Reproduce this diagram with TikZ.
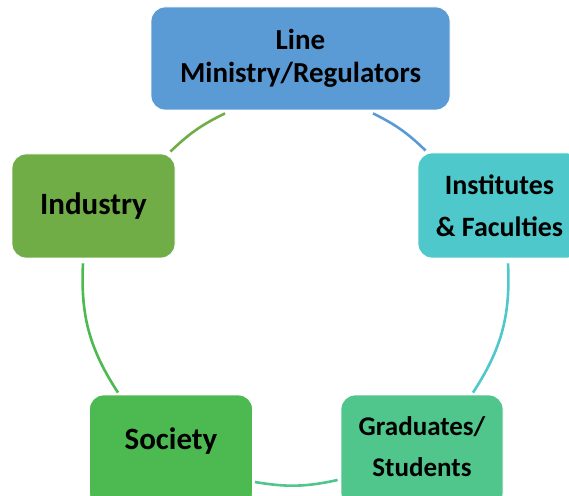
\documentclass[tikz,border=0pt]{standalone}
\usepackage{fontspec}
\setmainfont{Carlito}
\definecolor{lmblue}{HTML}{5B9BD5}
\definecolor{instteal}{HTML}{4EC8CA}
\definecolor{indgreen}{HTML}{70AD47}
\definecolor{socgreen}{HTML}{4CBA50}
\definecolor{gradgreen}{HTML}{50C58C}
\begin{document}
\begin{tikzpicture}[x=1pt,y=1pt,
  box/.style={rectangle,rounded corners=14pt,draw=white,line width=0.8pt,
    minimum width=163pt,minimum height=104pt,align=center,text=black},
  link/.style={line width=2.6pt}]
\clip (0,0) rectangle (569,495);
\node[box,fill=lmblue,minimum width=299pt,minimum height=103pt,
  font=\fontsize{29}{33}\selectfont\bfseries] (lm) at (300.5,436.5) {Line\\Ministry/Regulators};
\node[box,fill=instteal,minimum height=105pt,
  font=\fontsize{28}{42}\selectfont\bfseries] (inst) at (499.5,289.5) {Institutes\\\& Faculties};
\node[box,fill=indgreen,font=\fontsize{31}{37}\selectfont\bfseries] (ind) at (93.5,289) {Industry};
\node[box,fill=socgreen,minimum height=112pt,text depth=24pt,
  font=\fontsize{31}{37}\selectfont\bfseries] (soc) at (171,44) {Society};
\node[box,fill=gradgreen,minimum width=162pt,minimum height=112pt,text depth=8pt,
  font=\fontsize{27}{41}\selectfont\bfseries] (grad) at (422,44) {Graduates/\\Students};
\draw[link,color=lmblue]([shift={(72.5,-3)}]lm.south) to[bend left=9] ([shift={(8,2)}]inst.north west);
\draw[link,color=instteal]([shift={(8.5,-5)}]inst.south) to[bend left=18] ([shift={(51,2)}]grad.north);
\draw[link,color=gradgreen]([shift={(-3,-29)}]grad.west) to[bend left=11] ([shift={(2,-31)}]soc.east);
\draw[link,color=socgreen]([shift={(-53,2)}]soc.north) to[bend left=18] ([shift={(-10.5,-5)}]ind.south);
\draw[link,color=indgreen]([shift={(-5,2)}]ind.north east) to[bend left=9] ([shift={(-75.5,-3)}]lm.south);
\end{tikzpicture}
\end{document}
